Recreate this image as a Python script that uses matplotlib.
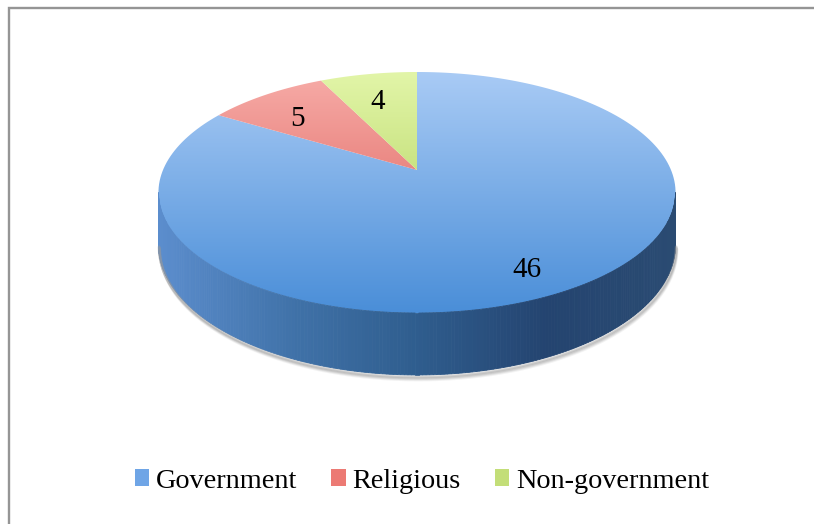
import numpy as np
import matplotlib
matplotlib.use("Agg")
import matplotlib.pyplot as plt
from matplotlib.patches import Polygon, Patch
from matplotlib.colors import LinearSegmentedColormap

categories = ["Government", "Religious", "Non-government"]
counts = [46, 5, 4]
top_colors = [("#a9cbf5", "#4a8ed8"), ("#f7aca8", "#d8514b"), ("#e2f5a8", "#a6ca4c")]
legend_colors = ["#6fa5e6", "#ec7a74", "#c3de78"]

# 3d pie geometry (pixels)
CX, CY = 417, 170
A, B, K = 254, 116.3, 0.1867
DEPTH = 62
LABEL_R = 0.77
LABEL_DROP = 12


def project(theta, r=1.0, drop=0.0):
    X = r * np.sin(theta)
    Z = r * np.cos(theta)
    den = 1 + K * Z
    x = CX + A * X / den
    y = CY - B * Z / den + drop * (1 - K) / den
    return x, y


fig = plt.figure(figsize=(8.14, 5.24), dpi=100)
ax = fig.add_axes([0, 0, 1, 1])
ax.set_xlim(0, 814)
ax.set_ylim(524, 0)
ax.axis("off")

# outer frame (only left and top edges visible)
ax.plot([9, 9, 830], [530, 8, 8], color="#959595", lw=1.7, solid_joinstyle="miter")

# side wall
t0 = np.arccos(-K)
t1 = 2 * np.pi - t0
ts = np.linspace(t0, t1, 240)
xt, yt = project(ts)
xb, yb = project(ts, drop=DEPTH)

# soft shadow under the wall
for i, off in enumerate([5, 4, 3, 2]):
    ax.plot(xb + off * 0.3, yb + off, color="#9a9a9a", alpha=0.12 + 0.08 * i, lw=2, solid_capstyle="round")

side_cmap = LinearSegmentedColormap.from_list(
    "side", [(0, "#5b8dcd"), (0.27, "#3f71a7"), (0.5, "#2f5d8e"), (0.75, "#244470"), (1, "#2a4b72")])
xmin, xmax = xt.min(), xt.max()
for i in range(len(ts) - 1):
    c = side_cmap((0.5 * (xt[i] + xt[i + 1]) - xmin) / (xmax - xmin))
    quad = [(xt[i], yt[i]), (xt[i + 1], yt[i + 1]), (xb[i + 1], yb[i + 1]), (xb[i], yb[i])]
    ax.add_patch(Polygon(quad, closed=True, facecolor=c, edgecolor=c, lw=0.6))

# top face slices with vertical gradient
total = sum(counts)
bounds = np.cumsum([0] + counts) / total * 2 * np.pi
ex, ey = project(np.linspace(0, 2 * np.pi, 400))
x0, x1 = ex.min(), ex.max()
y0, y1 = ey.min(), ey.max()
grad = np.linspace(0, 1, 256).reshape(-1, 1)

for (a0, a1), (c_top, c_bot) in zip(zip(bounds[:-1], bounds[1:]), top_colors):
    arc = np.linspace(a0, a1, 200)
    px, py = project(arc)
    verts = [(CX, CY)] + list(zip(px, py))
    poly = Polygon(verts, closed=True, facecolor="none", edgecolor="none")
    ax.add_patch(poly)
    cmap = LinearSegmentedColormap.from_list("g", [c_top, c_bot])
    im = ax.imshow(grad, cmap=cmap, aspect="auto", extent=[x0, x1, y1, y0],
                   origin="upper", interpolation="bilinear")
    im.set_clip_path(poly)

# data labels
for (a0, a1), v in zip(zip(bounds[:-1], bounds[1:]), counts):
    lx, ly = project(0.5 * (a0 + a1), r=LABEL_R, drop=LABEL_DROP)
    ax.text(lx, ly, str(v), ha="center", va="center", fontsize=21,
            family="Liberation Serif", color="black")

ax.set_xlim(0, 814)
ax.set_ylim(524, 0)

handles = [Patch(facecolor=c, edgecolor="none") for c in legend_colors]
fig.legend(handles, categories, loc="center", bbox_to_anchor=(422 / 814, 1 - 481 / 524),
           ncol=3, frameon=False, handlelength=0.5, handleheight=0.5,
           handletextpad=0.25, columnspacing=1.2,
           prop={"family": "Liberation Serif", "size": 20.3})

fig.savefig("out.png", dpi=100)
